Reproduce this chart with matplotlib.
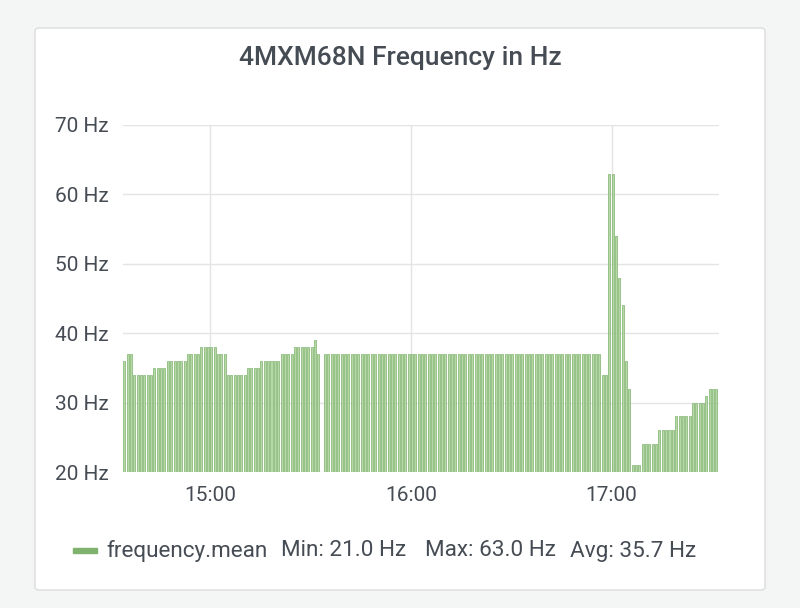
import matplotlib
matplotlib.use("Agg")
import matplotlib.pyplot as plt
from matplotlib.patches import FancyBboxPatch
import numpy as np

start_minute = 14*60 + 34
segments = [(36,1),(37,2),(34,6),(35,4),(36,6),(37,4),(38,5),(37,3),(34,6),(35,4),(36,6),(37,4),(38,6),(39,1),(37,1),
            (None,1),(37,83),(34,2),(63,2),(54,1),(48,1),(44,1),(36,1),(32,1),(21,3),(24,5),(26,5),(28,5),(30,4),(31,1),(32,3)]
values = []
for v, n in segments:
    values += [np.nan if v is None else v]*n
values = np.array(values, dtype=float)
minutes = start_minute + np.arange(len(values))

fig = plt.figure(figsize=(8, 6.08), dpi=100)
fig.patch.set_facecolor('#f4f5f5')
fig.patches.append(FancyBboxPatch((35/800, 1-590/608), 730/800, 562/608, boxstyle="round,pad=0,rounding_size=0.005",
                                  transform=fig.transFigure, facecolor='white', edgecolor='#dcdcdc', lw=1, zorder=-5))
ax = fig.add_axes([123/800, 1-472/608, (719-123)/800, (472-125)/608])
ax.set_facecolor('none')
ax.bar(minutes, values, width=0.6, align='edge', color='#b4d8a6', edgecolor='#7eb26d', linewidth=0.5, zorder=3)
ax.set_ylim(20, 70)
ax.set_xlim(start_minute - 0.1, minutes[-1] + 1.1)
ax.set_yticks([20,30,40,50,60,70])
ax.set_yticklabels([f"{v} Hz" for v in [20,30,40,50,60,70]])
ax.set_xticks([15*60, 16*60, 17*60])
ax.set_xticklabels(["15:00","16:00","17:00"])
ax.grid(True, color='#e4e4e4', lw=1, zorder=0)
for s in ax.spines.values():
    s.set_visible(False)
ax.tick_params(length=0, labelsize=15, colors='#464c54', pad=10)
fig.text(0.5, 1-58/608, "4MXM68N Frequency in Hz", ha='center', va='center', fontsize=19, color='#464c54', fontweight='medium', family='Roboto')
fig.patches.append(plt.Rectangle((73/800, 1-553/608), 24/800, 5/608, transform=fig.transFigure, color='#7eb26d'))
legend_parts = ["frequency.mean", "Min: 21.0 Hz", "Max: 63.0 Hz", "Avg: 35.7 Hz"]
xs = [106, 281, 425, 570]
for x, s in zip(xs, legend_parts):
    fig.text(x/800, 1-551/608, s, va='center', fontsize=16.2, color='#464c54', family='Roboto')
for t in ax.get_xticklabels()+ax.get_yticklabels():
    t.set_family('Roboto')
fig.savefig("out.png", dpi=100, facecolor=fig.get_facecolor())
